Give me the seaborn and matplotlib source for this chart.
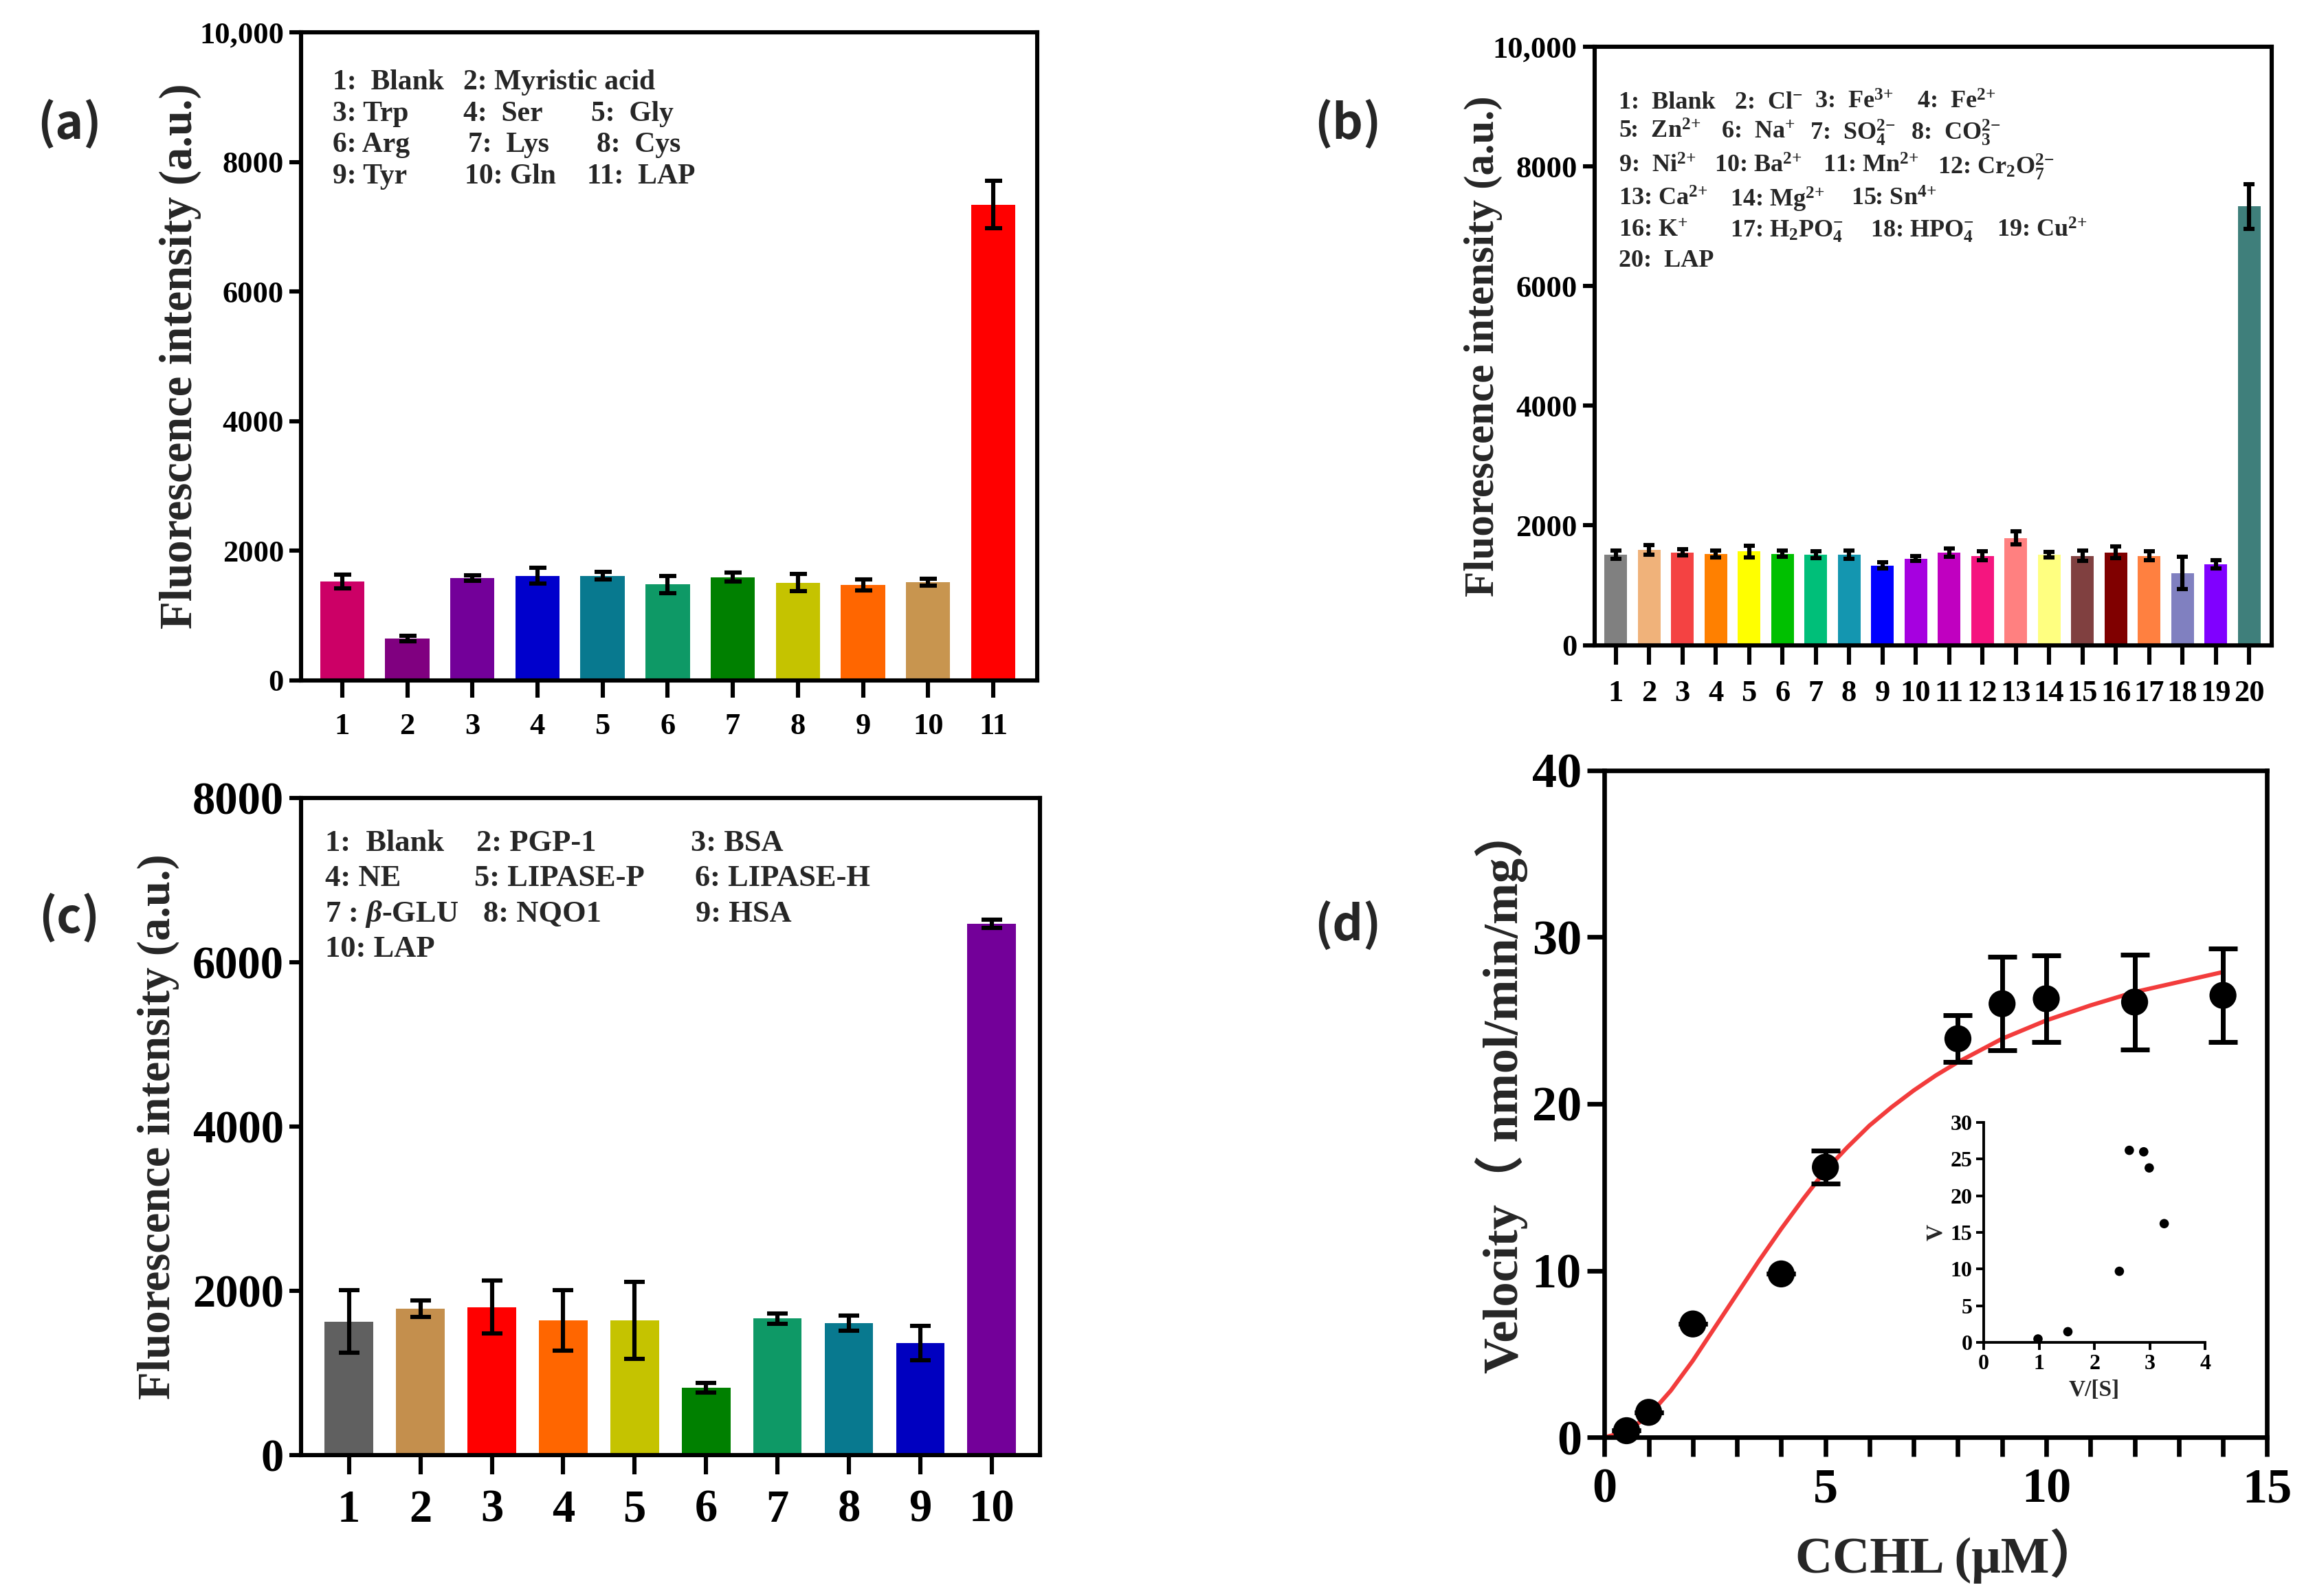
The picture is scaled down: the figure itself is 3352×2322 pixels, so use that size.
import numpy as np
import pandas as pd
import matplotlib
matplotlib.use("Agg")
import matplotlib.pyplot as plt
import seaborn as sns
from matplotlib.ticker import FixedLocator, MultipleLocator, FuncFormatter

# ---------------- data ----------------
a_labels = [str(i) for i in range(1, 12)]
a_values = [1525, 647, 1577, 1615, 1615, 1480, 1592, 1510, 1473, 1518, 7344]
a_errors = [105, 40, 40, 125, 60, 130, 70, 130, 80, 55, 365]
a_colors = ['#CC0066', '#800080', '#730099', '#0000CC', '#08798F', '#0E9966',
            '#008000', '#C5C300', '#FF6600', '#C8954F', '#FF0000']

b_labels = [str(i) for i in range(1, 21)]
b_values = [1510, 1590, 1550, 1526, 1566, 1526, 1510, 1510, 1333, 1446,
            1550, 1494, 1791, 1510, 1494, 1550, 1494, 1205, 1350, 7333]
b_errors = [70, 80, 50, 60, 100, 50, 60, 70, 50, 40,
            70, 80, 110, 50, 90, 100, 70, 270, 70, 370]
b_colors = ['#808080', '#F0B27A', '#F44242', '#FF8000', '#FFFF00', '#00C000',
            '#00BF79', '#1496B0', '#0000FF', '#A600E0', '#C000C0', '#F5157F',
            '#FF8080', '#FFFF80', '#804040', '#800000', '#FF8040', '#8080C0',
            '#8000FF', '#3F7F7B']

c_labels = [str(i) for i in range(1, 11)]
c_values = [1625, 1780, 1800, 1640, 1640, 820, 1660, 1605, 1360, 6470]
c_errors = [380, 100, 320, 370, 470, 60, 60, 90, 210, 50]
c_colors = ['#606060', '#C48F4D', '#FF0000', '#FF6600', '#C5C300', '#008000',
            '#0E9966', '#08798F', '#0000C0', '#730099']

d_conc = [0.5, 1, 2, 4, 5, 8, 9, 10, 12, 14]
d_velocity = [0.4, 1.5, 6.8, 9.8, 16.2, 23.9, 26.0, 26.3, 26.1, 26.5]
d_errors = [0, 0, 0, 0, 1.0, 1.4, 2.8, 2.6, 2.85, 2.8]
fit_x = [0, 0.5, 1, 1.5, 2, 2.5, 3, 3.5, 4, 4.5, 5, 5.5, 6, 6.5, 7, 7.5, 8,
         9, 10, 11, 12, 13, 14]
fit_y = [0, 0.35, 1.3, 2.8, 4.6, 6.6, 8.6, 10.6, 12.5, 14.3, 16.0, 17.4, 18.7,
         19.8, 20.8, 21.7, 22.5, 23.9, 25.0, 25.9, 26.7, 27.3, 27.9]

inset_vs = [0.98, 1.52, 2.45, 2.63, 2.89, 2.99, 3.26]
inset_v = [0.47, 1.46, 9.7, 26.2, 26.0, 23.8, 16.2]

a_legend = [("1:  Blank", 0.043, 0.923), ("2: Myristic acid", 0.220, 0.923),
            ("3: Trp", 0.043, 0.874), ("4:  Ser", 0.220, 0.874), ("5:  Gly", 0.394, 0.874),
            ("6: Arg", 0.043, 0.826), ("7:  Lys", 0.227, 0.826), ("8:  Cys", 0.401, 0.826),
            ("9: Tyr", 0.043, 0.777), ("10: Gln", 0.222, 0.777), ("11:  LAP", 0.388, 0.777)]

b_legend = [("1:  Blank", 0.036, 0.907), ("2:  Cl$^{{-}}$", 0.206, 0.907),
            ("3:  Fe$^{3{+}}$", 0.325, 0.907), ("4:  Fe$^{2{+}}$", 0.476, 0.907),
            ("5:  Zn$^{2{+}}$", 0.036, 0.857), ("6:  Na$^{{+}}$", 0.187, 0.857),
            ("7:  SO$_4^{2{-}}$", 0.318, 0.857), ("8:  CO$_3^{2{-}}$", 0.467, 0.857),
            ("9:  Ni$^{2{+}}$", 0.036, 0.800), ("10: Ba$^{2{+}}$", 0.177, 0.800),
            ("11: Mn$^{2{+}}$", 0.337, 0.800), ("12: Cr$_2$O$_7^{2{-}}$", 0.507, 0.800),
            ("13: Ca$^{2{+}}$", 0.036, 0.745), ("14: Mg$^{2{+}}$", 0.200, 0.745),
            ("15: Sn$^{4{+}}$", 0.379, 0.745),
            ("16: K$^{{+}}$", 0.036, 0.692), ("17: H$_2$PO$_4^{{-}}$", 0.200, 0.692),
            ("18: HPO$_4^{{-}}$", 0.407, 0.692), ("19: Cu$^{2{+}}$", 0.594, 0.692),
            ("20:  LAP", 0.036, 0.642)]

c_legend = [("1:  Blank", 0.032, 0.931), ("2: PGP-1", 0.237, 0.931), ("3: BSA", 0.527, 0.931),
            ("4: NE", 0.032, 0.878), ("5: LIPASE-P", 0.234, 0.878), ("6: LIPASE-H", 0.533, 0.878),
            ("7 : $\\beta$-GLU", 0.032, 0.823), ("8: NQO1", 0.246, 0.823), ("9: HSA", 0.534, 0.823),
            ("10: LAP", 0.032, 0.770)]

# ---------------- style ----------------
sns.set_style("ticks")
plt.rcParams['font.family'] = ['Liberation Serif', 'Noto Sans CJK SC', 'DejaVu Sans']
plt.rcParams['font.weight'] = 'bold'
plt.rcParams['axes.labelweight'] = 'bold'
plt.rcParams['mathtext.fontset'] = 'custom'
plt.rcParams['mathtext.rm'] = 'Liberation Serif:bold'
plt.rcParams['mathtext.it'] = 'Liberation Serif:bold:italic'
plt.rcParams['mathtext.bf'] = 'Liberation Serif:bold'
plt.rcParams['axes.edgecolor'] = 'black'
plt.rcParams['xtick.color'] = 'black'
plt.rcParams['ytick.color'] = 'black'

fig = plt.figure(figsize=(16.76, 11.61), dpi=200)

SPINE_LW = 2.2


def style_box(ax, lw=SPINE_LW):
    for s in ax.spines.values():
        s.set_visible(True)
        s.set_linewidth(lw)
        s.set_color('black')


def fmt_thousands(v, p):
    v = int(round(v))
    return f"{v:,}" if v >= 10000 else f"{v}"


def bar_panel(rect, labels, values, errors, colors, ylim, yticks, xlim,
              tick_fs, ylab_fs, ylab_x, capsize, xtick_len, legend, leg_fs):
    ax = fig.add_axes(rect)
    df = pd.DataFrame({'label': labels, 'value': values})
    sns.barplot(data=df, x='label', y='value', hue='label', palette=colors,
                legend=False, ax=ax, width=0.68, saturation=1, edgecolor='none')
    ax.errorbar(np.arange(len(values)), values, yerr=errors, fmt='none',
                ecolor='black', elinewidth=2.2, capsize=capsize, capthick=2.2,
                zorder=5)
    ax.set_xlim(*xlim)
    ax.set_ylim(*ylim)
    ax.yaxis.set_major_locator(FixedLocator(yticks))
    ax.yaxis.set_major_formatter(FuncFormatter(fmt_thousands))
    style_box(ax)
    ax.tick_params(axis='x', direction='out', length=xtick_len, width=SPINE_LW,
                   labelsize=tick_fs, pad=8)
    ax.tick_params(axis='y', direction='out', length=6, width=SPINE_LW,
                   labelsize=tick_fs, pad=3)
    for lab in ax.get_xticklabels() + ax.get_yticklabels():
        lab.set_fontweight('bold')
    ax.set_xlabel('')
    ax.set_ylabel('Fluorescence intensity (a.u.)', fontsize=ylab_fs,
                  fontweight='bold')
    ax.yaxis.set_label_coords(ylab_x, 0.5)
    for txt, x, y in legend:
        ax.text(x, y, txt, transform=ax.transAxes, ha='left', va='center',
                fontsize=leg_fs, fontweight='bold')
    return ax


# (a)
bar_panel([0.1307, 0.5737, 0.3196, 0.406], a_labels, a_values, a_errors, a_colors,
          (0, 10000), [0, 2000, 4000, 6000, 8000, 10000], (-0.63, 10.68),
          16, 24, -0.135, 4.5, 9, a_legend, 15)
# (b)
bar_panel([0.692, 0.5958, 0.294, 0.3748], b_labels, b_values, b_errors, b_colors,
          (0, 10000), [0, 2000, 4000, 6000, 8000, 10000], (-0.64, 19.68),
          16, 22, -0.136, 3, 10, b_legend, 13)
# (c)
bar_panel([0.1307, 0.0884, 0.3208, 0.4116], c_labels, c_values, c_errors, c_colors,
          (0, 8000), [0, 2000, 4000, 6000, 8000], (-0.67, 9.68),
          24, 24, -0.165, 5.5, 10, c_legend, 16)

# (d)
axd = fig.add_axes([0.6964, 0.0994, 0.2876, 0.418])
sns.lineplot(x=fit_x, y=fit_y, color='#F23C3C', lw=2.2, ax=axd, zorder=2)
axd.errorbar(d_conc, d_velocity, yerr=d_errors, fmt='none', ecolor='black',
             elinewidth=2.5, capsize=7.5, capthick=2.5, zorder=3)
sns.scatterplot(x=d_conc, y=d_velocity, color='black', s=200, ax=axd,
                edgecolor='none', zorder=4, clip_on=False)
axd.set_xlim(0, 15)
axd.set_ylim(0, 40)
axd.xaxis.set_major_locator(FixedLocator([0, 5, 10, 15]))
axd.xaxis.set_minor_locator(MultipleLocator(1))
axd.yaxis.set_major_locator(FixedLocator([0, 10, 20, 30, 40]))
style_box(axd, 2.4)
axd.tick_params(axis='x', which='both', direction='out', length=10, width=2.4,
                labelsize=26, pad=6)
axd.tick_params(axis='y', direction='out', length=9, width=2.4, labelsize=26, pad=3)
for lab in axd.get_xticklabels() + axd.get_yticklabels():
    lab.set_fontweight('bold')
axd.set_ylabel('Velocity（ nmol/min/mg）', fontsize=26, fontweight='bold')
axd.yaxis.set_label_coords(-0.116, 0.52)
axd.set_xlabel('CCHL (μM）', fontsize=27, fontweight='bold')
axd.xaxis.set_label_coords(0.519, -0.136)

# inset
axi = fig.add_axes([0.861, 0.1589, 0.0961, 0.1378])
sns.scatterplot(x=inset_vs, y=inset_v, color='black', s=24, edgecolor='none',
                ax=axi, clip_on=False)
axi.set_xlim(0, 4)
axi.set_ylim(0, 30)
axi.xaxis.set_major_locator(FixedLocator([0, 1, 2, 3, 4]))
axi.yaxis.set_major_locator(FixedLocator([0, 5, 10, 15, 20, 25, 30]))
axi.patch.set_alpha(0)
for s in ['top', 'right']:
    axi.spines[s].set_visible(False)
for s in ['left', 'bottom']:
    axi.spines[s].set_linewidth(1.4)
    axi.spines[s].set_color('black')
axi.tick_params(direction='out', length=4, width=1.4, labelsize=11.5, pad=2)
for lab in axi.get_xticklabels() + axi.get_yticklabels():
    lab.set_fontweight('bold')
    lab.set_family('Liberation Serif')
axi.set_xlabel('V/[S]', fontsize=12, fontweight='bold', labelpad=3,
               family='Liberation Serif')
axi.set_ylabel('V', fontsize=12, fontweight='bold', labelpad=2,
               family='Liberation Serif')

# panel letters
for lab, x, y in [("(a)", 0.030, 0.922), ("(b)", 0.585, 0.922),
                  ("(c)", 0.030, 0.4245), ("(d)", 0.585, 0.42)]:
    fig.text(x, y, lab, fontsize=25, ha='center', va='center',
             family=['Noto Sans CJK SC', 'DejaVu Sans'], fontweight='bold')

fig.savefig("out.png", dpi=200, facecolor='white')
